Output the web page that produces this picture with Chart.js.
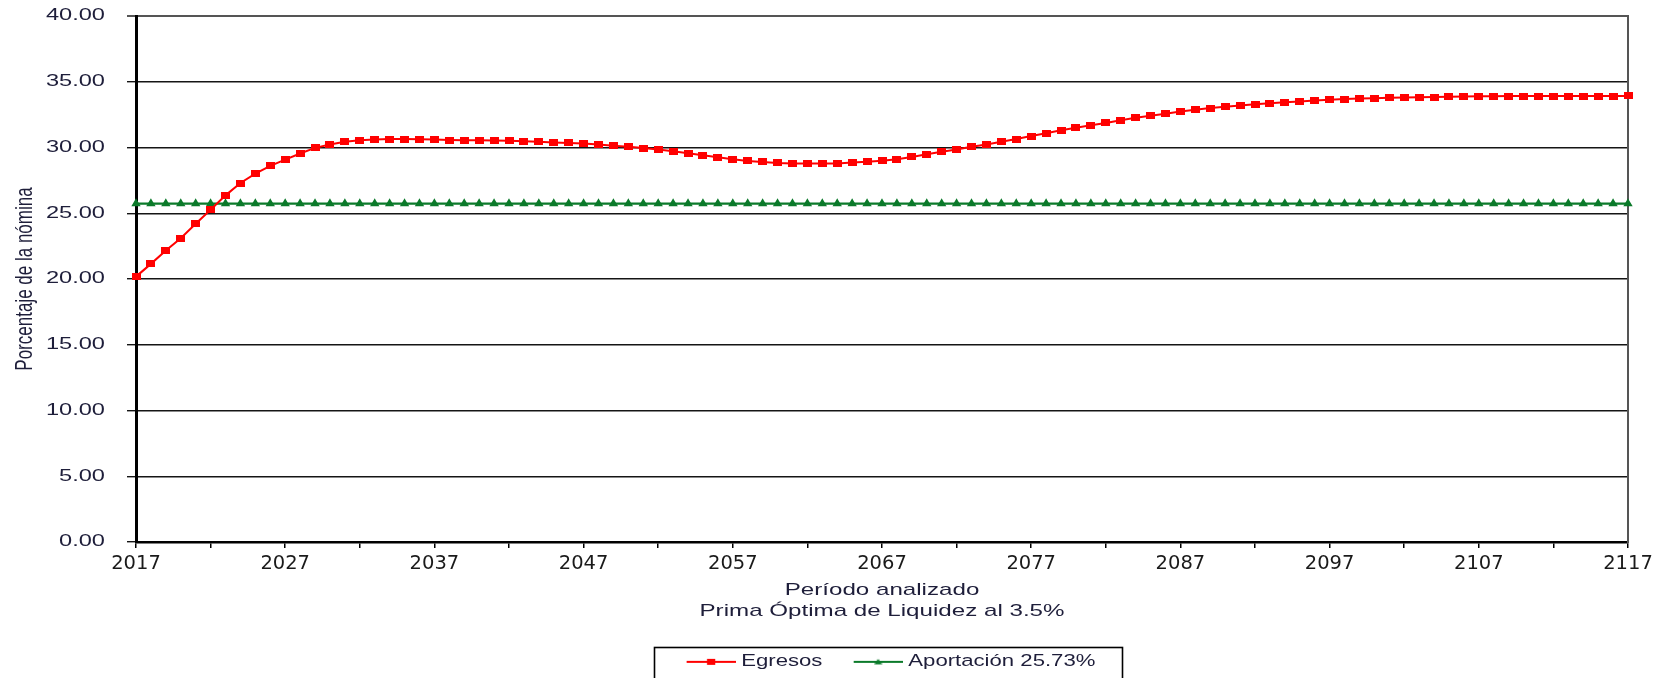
<!DOCTYPE html>
<html><head><meta charset="utf-8">
<script src="https://cdn.jsdelivr.net/npm/chart.js@4.4.1/dist/chart.umd.min.js"></script>
<style>html,body{margin:0;padding:0;background:#fff;overflow:hidden}#wrap{width:1667px;height:678px}canvas{display:block}</style>
</head><body><div id="wrap"><canvas id="c" width="1667" height="678"></canvas></div>
<script>
const years = [
  2017,2018,2019,2020,2021,2022,2023,2024,2025,2026,
  2027,2028,2029,2030,2031,2032,2033,2034,2035,2036,
  2037,2038,2039,2040,2041,2042,2043,2044,2045,2046,
  2047,2048,2049,2050,2051,2052,2053,2054,2055,2056,
  2057,2058,2059,2060,2061,2062,2063,2064,2065,2066,
  2067,2068,2069,2070,2071,2072,2073,2074,2075,2076,
  2077,2078,2079,2080,2081,2082,2083,2084,2085,2086,
  2087,2088,2089,2090,2091,2092,2093,2094,2095,2096,
  2097,2098,2099,2100,2101,2102,2103,2104,2105,2106,
  2107,2108,2109,2110,2111,2112,2113,2114,2115,2116,
  2117
];
const egresos = [
  20.18,21.15,22.16,23.10,24.20,25.27,26.36,27.30,28.02,28.60,
  29.08,29.54,29.97,30.23,30.43,30.56,30.61,30.64,30.64,30.62,
  30.60,30.57,30.56,30.55,30.54,30.51,30.48,30.43,30.38,30.35,
  30.30,30.23,30.13,30.05,29.96,29.85,29.72,29.56,29.41,29.25,
  29.10,28.98,28.90,28.83,28.79,28.78,28.78,28.79,28.85,28.91,
  28.99,29.11,29.28,29.49,29.67,29.85,30.05,30.23,30.44,30.64,
  30.87,31.08,31.31,31.51,31.69,31.87,32.08,32.26,32.41,32.56,
  32.74,32.87,33.00,33.10,33.20,33.29,33.36,33.45,33.50,33.57,
  33.63,33.68,33.73,33.75,33.79,33.81,33.83,33.84,33.86,33.87,
  33.89,33.90,33.91,33.91,33.91,33.91,33.91,33.91,33.91,33.91,
  33.92
];
const aportacion = [
  25.73,25.73,25.73,25.73,25.73,25.73,25.73,25.73,25.73,25.73,
  25.73,25.73,25.73,25.73,25.73,25.73,25.73,25.73,25.73,25.73,
  25.73,25.73,25.73,25.73,25.73,25.73,25.73,25.73,25.73,25.73,
  25.73,25.73,25.73,25.73,25.73,25.73,25.73,25.73,25.73,25.73,
  25.73,25.73,25.73,25.73,25.73,25.73,25.73,25.73,25.73,25.73,
  25.73,25.73,25.73,25.73,25.73,25.73,25.73,25.73,25.73,25.73,
  25.73,25.73,25.73,25.73,25.73,25.73,25.73,25.73,25.73,25.73,
  25.73,25.73,25.73,25.73,25.73,25.73,25.73,25.73,25.73,25.73,
  25.73,25.73,25.73,25.73,25.73,25.73,25.73,25.73,25.73,25.73,
  25.73,25.73,25.73,25.73,25.73,25.73,25.73,25.73,25.73,25.73,
  25.73
];
const xTickLabels = ['2017','2027','2037','2047','2057','2067','2077','2087','2097','2107','2117'];
const seriesNames = ['Egresos', 'Aportación 25.73%'];
const xTitle = ['Período analizado', 'Prima Óptima de Liquidez al 3.5%'];
const yTitle = 'Porcentaje de la nómina';

const RED = '#ff0000', GREEN = '#0b7a2a', TXT = '#1e1e3a';
const LEG_STRETCH = 1.36;

function rectMarker(w, h, color) {
  const c = document.createElement('canvas'); c.width = w; c.height = h;
  const g = c.getContext('2d'); g.fillStyle = color; g.fillRect(0, 0, w, h); return c;
}
function legendSample(kind, color) {
  const c = document.createElement('canvas'); c.width = 40; c.height = 10;
  const g = c.getContext('2d');
  g.strokeStyle = color; g.lineWidth = 2;
  g.beginPath(); g.moveTo(4, 5); g.lineTo(40, 5); g.stroke();
  g.fillStyle = color;
  if (kind === 'rect') { g.fillRect(19, 2, 6, 6); }
  else { g.beginPath(); g.moveTo(22, 2); g.lineTo(25, 7.5); g.lineTo(19, 7.5); g.closePath(); g.fill(); }
  return c;
}
const redMarker = rectMarker(9, 7, RED);
const samples = [legendSample('rect', RED), legendSample('tri', GREEN)];

function stretchX(ctx, ax, sx) { ctx.translate(ax, 0); ctx.scale(sx, 1); ctx.translate(-ax, 0); }

const decor = {
  id: 'decor',
  afterLayout(chart) {
    const lg = chart.legend;
    if (lg) {
      lg.left += 57.5; lg.right += 57.5; lg.top += 2; lg.bottom += 2;
      if (!lg._ls) {
        const orig = lg.draw;
        lg.draw = function (a) {
          const c = this.ctx; const cx = (this.left + this.right) / 2;
          c.save(); stretchX(c, cx, LEG_STRETCH); orig.call(this, a); c.restore();
        };
        lg._ls = true;
      }
    }
    const y = chart.scales.y;
    if (y && !y._ls) {
      const oL = y.drawLabels, oT = y.drawTitle;
      y.drawLabels = function (a) {
        const c = this.ctx; const items = this.getLabelItems(a);
        const ax = items.length ? items[0].options.translation[0] : this.right;
        c.save(); stretchX(c, ax, 1.45); oL.call(this, a); c.restore();
      };
      y.drawTitle = function () {
        const c = this.ctx; const t = this.options.title;
        const ax = this.left + t.padding.top + 17 * 1.2 / 2;
        c.save(); stretchX(c, ax, 1.45); oT.call(this); c.restore();
      };
      y._ls = true;
    }
    const x = chart.scales.x;
    if (x && !x._ls) {
      const orig = x.drawTitle;
      x.drawTitle = function () {
        const c = this.ctx; const ax = (this.left + this.right) / 2;
        c.save(); stretchX(c, ax, 1.42); orig.call(this); c.restore();
      };
      x._ls = true;
    }
  },
  afterDraw(chart) {
    const lg = chart.legend;
    const hb = lg && lg.legendHitBoxes;
    if (!hb || !hb.length) return;
    const cx = (lg.left + lg.right) / 2;
    const sx = (v) => cx + (v - cx) * LEG_STRETCH;
    const c = chart.ctx;
    const l = sx(hb[0].left) - 33;
    const last = hb[hb.length - 1];
    const r = sx(last.left + last.width) + 26;
    const cy = hb[0].top + hb[0].height / 2;
    c.save(); c.strokeStyle = '#000'; c.lineWidth = 1.6;
    c.strokeRect(Math.round(l) + 0.5, Math.round(cy - 15) + 0.5, Math.round(r - l), 40);
    c.restore();
  }
};

new Chart(document.getElementById('c'), {
  type: 'line',
  data: {
    datasets: [
      {
        label: seriesNames[0],
        data: years.map((yr, i) => ({ x: yr, y: egresos[i] })),
        borderColor: RED, backgroundColor: RED, borderWidth: 2,
        pointStyle: redMarker, pointRadius: 4, tension: 0, clip: false
      },
      {
        label: seriesNames[1],
        data: years.map((yr, i) => ({ x: yr, y: aportacion[i] })),
        borderColor: GREEN, backgroundColor: GREEN, borderWidth: 2.2,
        pointStyle: 'triangle', pointRadius: 3.2, tension: 0, clip: false
      }
    ]
  },
  options: {
    responsive: false, animation: false, devicePixelRatio: 1, events: [],
    layout: { padding: { top: 16, left: 0, right: 0, bottom: 0 } },
    plugins: {
      tooltip: { enabled: false },
      legend: {
        position: 'bottom',
        labels: {
          usePointStyle: true, pointStyleWidth: 32, padding: 23,
          color: TXT, font: { family: 'Liberation Sans', size: 16.3 },
          generateLabels(chart) {
            return chart.data.datasets.map((ds, i) => ({
              text: ds.label, pointStyle: samples[i], fillStyle: ds.borderColor,
              strokeStyle: ds.borderColor, lineWidth: 0, hidden: false, datasetIndex: i, fontColor: TXT
            }));
          }
        }
      }
    },
    scales: {
      x: {
        type: 'linear', min: 2017, max: 2117,
        afterFit(s) { s.height = 86.7; },
        ticks: {
          stepSize: 5, autoSkip: false, maxRotation: 0, padding: 4, color: '#1a1a1a',
          font: { family: 'DejaVu Sans', size: 19.5 },
          callback: (v) => { const s = String(v); return xTickLabels.includes(s) ? s : ''; }
        },
        grid: { drawOnChartArea: false, drawTicks: true, tickLength: 6, color: '#000', lineWidth: 1.5 },
        border: { display: true, color: '#000', width: 2.5 },
        title: {
          display: true, text: xTitle, color: TXT,
          font: { family: 'Liberation Sans', size: 17, lineHeight: 1.2 },
          padding: { top: 0, bottom: 7.5 }
        }
      },
      y: {
        min: 0, max: 40,
        afterFit(s) { s.width = 136; s.paddingTop = 0; s.paddingBottom = 0; },
        ticks: {
          stepSize: 5, padding: 22, color: TXT,
          font: { family: 'Liberation Sans', size: 16.3 },
          callback: (v) => Number(v).toFixed(2)
        },
        grid: {
          drawTicks: true, tickLength: 9,
          color: (ctx) => (ctx.tick && ctx.tick.value === 40 ? '#555' : '#151515'),
          lineWidth: (ctx) => (ctx.tick && ctx.tick.value === 40 ? 2 : 1.4)
        },
        border: { display: true, color: '#000', width: 3 },
        title: {
          display: true, text: yTitle, color: TXT,
          font: { family: 'Liberation Sans', size: 17, lineHeight: 1.2 },
          padding: { top: 15, bottom: 0 }
        }
      },
      y2: {
        position: 'right', min: 0, max: 40,
        afterFit(s) { s.width = 39; s.paddingTop = 0; s.paddingBottom = 0; },
        ticks: { display: false },
        grid: { display: false, drawTicks: false },
        border: { display: true, color: '#555', width: 2 }
      }
    }
  },
  plugins: [decor]
});
</script>
</body></html>
